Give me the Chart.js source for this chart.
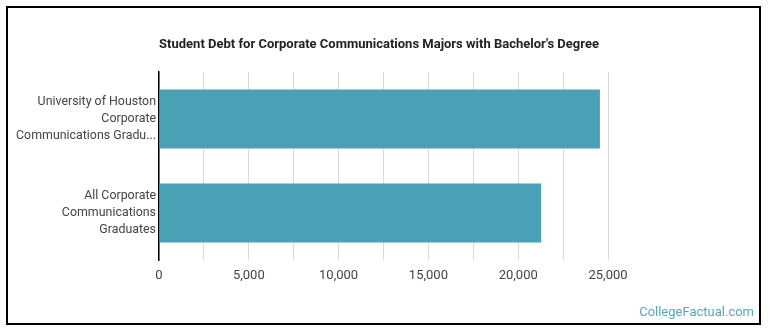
<!DOCTYPE html>
<html>
<head>
<meta charset="utf-8">
<script src="https://cdn.jsdelivr.net/npm/chart.js@4"></script>
<style>
  html, body { margin: 0; padding: 0; background: #fff; }
  #wrap { position: relative; width: 770px; height: 335px; }
  #frame { position: absolute; left: 6px; top: 6px; width: 751px; height: 315px; border: 2px solid #000; }
  #debtChart { position: absolute; left: 0; top: 0; }
</style>
</head>
<body>
<div id="wrap">
  <div id="frame"></div>
  <canvas id="debtChart" width="770" height="335"></canvas>
</div>
<script>
// chart data
var categories = [
    ['University of Houston', 'Corporate', 'Communications Gradu...'],
    ['All Corporate', 'Communications', 'Graduates']
];
var debtValues = [24550, 21280];
var xTicks = [0, 5000, 10000, 15000, 20000, 25000];

var titleText = "Student Debt for Corporate Communications Majors with Bachelor's Degree";
var watermark = 'CollegeFactual.com';

// title (offset from the page centre like the original) and the site name
var textPlugin = {
    id: 'extraText',
    afterDraw: function(chart) {
        var ctx = chart.ctx;
        ctx.save();
        ctx.font = 'bold 13px Roboto';
        ctx.fillStyle = '#222';
        ctx.textAlign = 'center';
        ctx.textBaseline = 'middle';
        ctx.fillText(titleText, 379, 45);

        ctx.font = '13px Roboto';
        ctx.fillStyle = '#5aa5b9';
        ctx.textAlign = 'right';
        ctx.fillText(watermark, 754, 313);
        ctx.restore();
    }
};

var ctx = document.getElementById('debtChart').getContext('2d');
new Chart(ctx, {
    type: 'bar',
    data: {
        labels: categories,
        datasets: [{
            data: debtValues,
            backgroundColor: '#4aa0b4',
            borderWidth: 0,
            barPercentage: 0.63,
            categoryPercentage: 1
        }]
    },
    options: {
        indexAxis: 'y',
        responsive: false,
        animation: false,
        events: [],
        layout: {
            padding: { left: 0, right: 162, top: 72, bottom: 0 }
        },
        plugins: {
            legend: { display: false },
            tooltip: { enabled: false },
            title: { display: false }
        },
        scales: {
            x: {
                min: 0,
                max: 25000,
                afterFit: function(scale) { scale.height = 75; },
                afterBuildTicks: function(scale) {
                    var t = [];
                    for (var v = 0; v <= 25000; v += 2500) t.push({ value: v });
                    scale.ticks = t;
                },
                grid: { color: '#d9d9d9', lineWidth: 1, drawTicks: false },
                border: { display: false },
                ticks: {
                    color: '#444',
                    font: { family: 'Roboto', size: 13 },
                    padding: 8,
                    autoSkip: false,
                    maxRotation: 0,
                    callback: function(v) {
                        return xTicks.indexOf(v) >= 0 ? v.toLocaleString('en-US') : '';
                    }
                }
            },
            y: {
                afterFit: function(scale) { scale.width = 159; },
                grid: { display: false, drawTicks: false },
                border: { display: true, color: '#000', width: 1.5 },
                ticks: {
                    color: '#444',
                    font: { family: 'Roboto', size: 12.4, lineHeight: 1.34 },
                    padding: 3
                }
            }
        }
    },
    plugins: [textPlugin]
});
</script>
</body>
</html>
